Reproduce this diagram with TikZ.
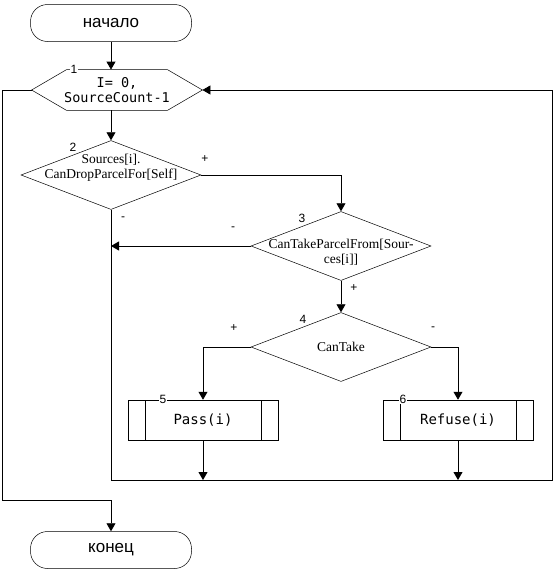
\documentclass[tikz,border=0pt]{standalone}
\usepackage{fontspec}
\setmainfont{Liberation Serif}
\setsansfont{Liberation Sans}
\setmonofont{DejaVu Sans Mono}
\usetikzlibrary{arrows.meta, shapes.geometric}

\begin{document}
\begin{tikzpicture}[
    x=1pt, y=-1pt,
    >={Triangle[length=8pt,width=9pt]},
    line width=0.8pt,
    terminal/.style={draw, line width=0.5pt, rounded corners=17pt,
        minimum width=161pt, minimum height=37pt,
        font=\sffamily\fontsize{17}{19}\selectfont},
    hexbox/.style={minimum width=170pt, minimum height=40pt, inner sep=0pt,
        align=center, font=\ttfamily\fontsize{13.5}{15}\selectfont},
    decision/.style={draw, diamond, line width=0.5pt, inner sep=0pt,
        minimum width=180pt, minimum height=69pt},
    condtext/.style={font=\rmfamily\fontsize{13.5}{15}\selectfont, align=center},
    process/.style={draw, line width=0.5pt, minimum width=150pt, minimum height=40pt,
        font=\ttfamily\fontsize{14}{16}\selectfont,
        path picture={\draw[line width=0.5pt]
            ([xshift=17pt]path picture bounding box.north west) --
            ([xshift=17pt]path picture bounding box.south west)
            ([xshift=-17pt]path picture bounding box.north east) --
            ([xshift=-17pt]path picture bounding box.south east);}},
    num/.style={font=\sffamily\fontsize{12}{12}\selectfont, fill=white, inner sep=1pt},
    sign/.style={font=\sffamily\fontsize{12}{12}\selectfont, inner sep=1pt},
]
\useasboundingbox (0,0) rectangle (553,571);

% === Terminals ===
\node[terminal] (start) at (111,23) {начало};
\node[terminal] (stop) at (111,550) {конец};

% === Loop limit (1) ===
\node[hexbox] (loop) at (117,90) {I= 0,\\SourceCount-1};
\draw[line width=0.5pt] (loop.west) -- ([xshift=35pt]loop.north west)
    -- ([xshift=-35pt]loop.north east) -- (loop.east)
    -- ([xshift=-35pt]loop.south east) -- ([xshift=35pt]loop.south west) -- cycle;

% === Decisions (2, 3, 4) ===
\node[decision] (drop) at (111,175) {};
\node[condtext] (droptext) at ([yshift=7pt]drop.center) {Sources[i].\\CanDropParcelFor[Self]};
\node[decision] (take) at (341,246) {};
\node[condtext] (taketext) at ([yshift=-6pt]take.center) {CanTakeParcelFrom[Sour-\\ces[i]]};
\node[decision] (can) at (341,347) {};
\node[condtext] (cantext) at (can.center) {CanTake};

% === Processes (5, 6) ===
\node[process] (pass) at (203,420) {Pass(i)};
\node[process] (refuse) at (458,420) {Refuse(i)};

% === Return corners ===
\coordinate (exitcorner) at (2,500);
\coordinate (loopcorner) at (552,480);

% === Connectors ===
\draw[->] (start.south) -- (start.south |- loop.north);
\draw[->] (start.south |- loop.south) -- (drop.north);
\draw[->] (drop.east) -| (take.north);
\draw[->] (take.west) -- (take.west -| drop.south);
\draw[->] (take) -- (can);
\draw[->] (can.west) -| (pass.north);
\draw[->] (can.east) -| (refuse.north);
\draw[->] (pass.south) -- (pass.south |- loopcorner);
\draw[->] (refuse.south) -- (refuse.south |- loopcorner);
\draw[->] (drop.south) |- (loopcorner) |- (loop.east);
\draw[->] (loop.west) -| (exitcorner) -| (stop.north);

% === Block numbers ===
\node[num] (n1) at (74,69) {1};
\node[num] (n2) at (73,147) {2};
\node[num] (n3) at (302,218) {3};
\node[num] (n4) at (303,319) {4};
\node[num] (n5) at (163,399) {5};
\node[num] (n6) at (403,399) {6};

% === Branch signs ===
\node[sign] (s2p) at (205,159) {+};
\node[sign] (s2m) at (123,219) {-};
\node[sign] (s3m) at (233,229) {-};
\node[sign] (s3p) at (354,288) {+};
\node[sign] (s4p) at (234,328) {+};
\node[sign] (s4m) at (433,329) {-};

\end{tikzpicture}
\end{document}
